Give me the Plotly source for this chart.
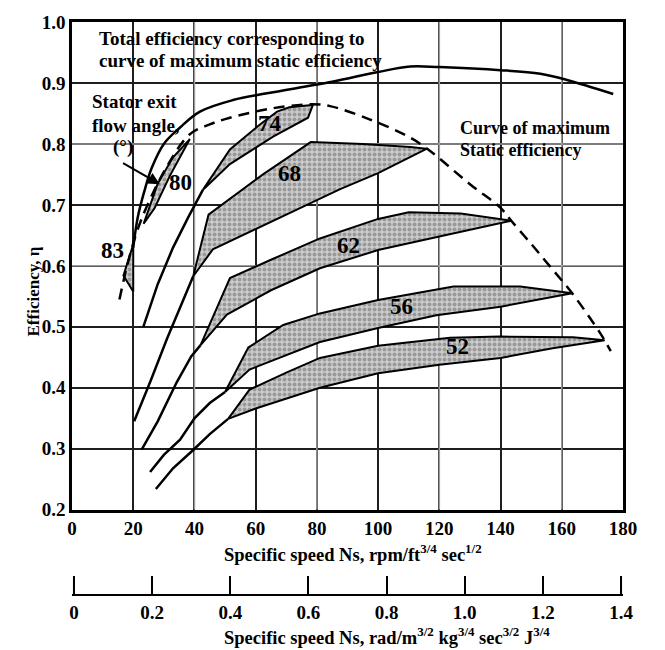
import plotly.graph_objects as go

FONT = "Liberation Serif"

# ---------------- data ----------------
X_TICKS = [0, 20, 40, 60, 80, 100, 120, 140, 160, 180]
Y_TICKS = [0.2, 0.3, 0.4, 0.5, 0.6, 0.7, 0.8, 0.9, 1.0]
X2_TICKS = [0, 0.2, 0.4, 0.6, 0.8, 1.0, 1.2, 1.4]
X2_LABELS = ["0", "0.2", "0.4", "0.6", "0.8", "1.0", "1.2", "1.4"]
GRAY_X = [40, 80, 120, 160]
GRAY_Y = [0.6, 0.8]

TOTAL_X = [20, 21.5, 23.5, 26, 30, 35.3, 41.8, 52.6, 63.7, 85, 100, 110.5, 120, 140, 153, 161.7, 176.8]
TOTAL_Y = [0.63, 0.68, 0.72, 0.76, 0.80, 0.827, 0.853, 0.872, 0.883, 0.902, 0.918, 0.927, 0.926, 0.921, 0.915, 0.905, 0.882]

MAXSTATIC_X = [15.5, 18, 21, 24.4, 30.9, 38.5, 45, 51.6, 65, 78, 84.3, 97.4, 109.5, 115.8, 130, 140, 143.5, 150, 156, 163.4, 172.5, 176]
MAXSTATIC_Y = [0.545, 0.60, 0.653, 0.697, 0.762, 0.816, 0.832, 0.843, 0.858, 0.865, 0.862, 0.84, 0.813, 0.793, 0.734, 0.695, 0.674, 0.636, 0.60, 0.555, 0.49, 0.46]

# stator exit flow angle bands: approach line, upper edge, lower edge
B52_APPROACH_X = [27.4, 33, 39.6, 45, 51]
B52_APPROACH_Y = [0.234, 0.268, 0.298, 0.324, 0.349]
B52_UPPER_X = [51, 58, 70, 81, 100, 123.5, 140, 163.7, 174]
B52_UPPER_Y = [0.349, 0.397, 0.425, 0.449, 0.469, 0.482, 0.484, 0.483, 0.478]
B52_LOWER_X = [51, 60, 81, 100, 120, 140, 157, 174]
B52_LOWER_Y = [0.349, 0.366, 0.40, 0.424, 0.438, 0.449, 0.465, 0.478]

B56_APPROACH_X = [25.5, 30, 35.3, 40, 45, 50]
B56_APPROACH_Y = [0.262, 0.29, 0.315, 0.35, 0.375, 0.393]
B56_UPPER_X = [50, 57.6, 69, 81, 100, 124.6, 146.4, 163.4]
B56_UPPER_Y = [0.393, 0.466, 0.503, 0.522, 0.544, 0.566, 0.566, 0.555]
B56_LOWER_X = [50, 58, 81, 100, 119, 140, 163.4]
B56_LOWER_Y = [0.393, 0.43, 0.475, 0.498, 0.519, 0.533, 0.555]

B62_APPROACH_X = [22.8, 28, 34.2, 39, 42]
B62_APPROACH_Y = [0.299, 0.345, 0.409, 0.452, 0.47]
B62_UPPER_X = [42, 51.6, 65, 81, 100, 110, 127, 143.5]
B62_UPPER_Y = [0.47, 0.58, 0.61, 0.645, 0.677, 0.688, 0.686, 0.674]
B62_LOWER_X = [42, 50.6, 65, 81, 100, 120, 143.5]
B62_LOWER_Y = [0.47, 0.52, 0.56, 0.596, 0.626, 0.648, 0.674]

B68_APPROACH_X = [20.3, 25.5, 31, 36, 39.6]
B68_APPROACH_Y = [0.345, 0.409, 0.48, 0.54, 0.583]
B68_UPPER_X = [39.6, 44.6, 62.4, 78, 95, 110.5, 115.8]
B68_UPPER_Y = [0.583, 0.684, 0.75, 0.803, 0.80, 0.795, 0.792]
B68_LOWER_X = [39.6, 46, 60, 87.6, 100, 115.8]
B68_LOWER_Y = [0.583, 0.627, 0.66, 0.726, 0.752, 0.792]

B74_APPROACH_X = [23.3, 28, 33, 38, 42.8]
B74_APPROACH_Y = [0.50, 0.57, 0.63, 0.68, 0.725]
B74_UPPER_X = [42.8, 51.6, 61.4, 67, 71, 78.7]
B74_UPPER_Y = [0.725, 0.791, 0.832, 0.853, 0.86, 0.864]
B74_LOWER_X = [42.8, 51.6, 65.7, 77.1, 78.7]
B74_LOWER_Y = [0.725, 0.767, 0.812, 0.843, 0.864]

B80_UPPER_X = [23.4, 28, 33, 38.5]
B80_UPPER_Y = [0.669, 0.735, 0.778, 0.808]
B80_LOWER_X = [23.4, 27, 32, 38.5]
B80_LOWER_Y = [0.669, 0.695, 0.748, 0.808]

B83_UPPER_X = [20, 16.8]
B83_UPPER_Y = [0.635, 0.584]
B83_LOWER_X = [20, 20, 16.8]
B83_LOWER_Y = [0.635, 0.558, 0.584]

BAND_LABELS = ["83", "80", "74", "68", "62", "56", "52"]
BAND_LABEL_X = [13.1, 35.3, 64.7, 71.2, 90.2, 107.8, 125.8]
BAND_LABEL_Y = [0.626, 0.737, 0.833, 0.751, 0.634, 0.534, 0.467]

BANDS = [
    (None, None, B83_UPPER_X, B83_UPPER_Y, B83_LOWER_X, B83_LOWER_Y),
    (None, None, B80_UPPER_X, B80_UPPER_Y, B80_LOWER_X, B80_LOWER_Y),
    (B74_APPROACH_X, B74_APPROACH_Y, B74_UPPER_X, B74_UPPER_Y, B74_LOWER_X, B74_LOWER_Y),
    (B68_APPROACH_X, B68_APPROACH_Y, B68_UPPER_X, B68_UPPER_Y, B68_LOWER_X, B68_LOWER_Y),
    (B62_APPROACH_X, B62_APPROACH_Y, B62_UPPER_X, B62_UPPER_Y, B62_LOWER_X, B62_LOWER_Y),
    (B56_APPROACH_X, B56_APPROACH_Y, B56_UPPER_X, B56_UPPER_Y, B56_LOWER_X, B56_LOWER_Y),
    (B52_APPROACH_X, B52_APPROACH_Y, B52_UPPER_X, B52_UPPER_Y, B52_LOWER_X, B52_LOWER_Y),
]

# text lines: (text, x, y, xanchor, size)
NOTE_LINES = [
    ("Total efficiency corresponding to", 8.2, 0.9735, "left", 19),
    ("curve of maximum static efficiency", 8.2, 0.9375, "left", 19),
    ("Curve of maximum", 126.1, 0.8260, "left", 18),
    ("Static efficiency", 126.1, 0.7900, "left", 18),
    ("Stator exit", 5.9, 0.8690, "left", 19),
    ("flow angle,", 5.9, 0.8300, "left", 19),
    ("(°)", 16.7, 0.7950, "center", 19),
]

# ---------------- figure ----------------
fig = go.Figure()
LW = 2.5

for ax_, ay_, ux, uy, lx, ly in BANDS:
    fig.add_trace(go.Scatter(
        x=ux + lx[::-1], y=uy + ly[::-1], mode="lines", fill="toself",
        fillcolor="#b0b0b0",
        fillpattern=dict(shape=".", fgcolor="#666666", bgcolor="#cccccc", size=5, solidity=0.5),
        line=dict(color="black", width=2), showlegend=False, hoverinfo="skip"))
    if ax_ is not None:
        fig.add_trace(go.Scatter(x=ax_, y=ay_, mode="lines",
                                 line=dict(color="black", width=LW),
                                 showlegend=False, hoverinfo="skip"))

fig.add_trace(go.Scatter(x=TOTAL_X, y=TOTAL_Y, mode="lines", line_shape="spline",
                         line=dict(color="black", width=LW), showlegend=False))
fig.add_trace(go.Scatter(x=MAXSTATIC_X, y=MAXSTATIC_Y, mode="lines", line_shape="spline",
                         line=dict(color="black", width=LW, dash="11px,7px"), showlegend=False))
# carrier for the secondary (SI) axis
fig.add_trace(go.Scatter(x=[None], y=[None], xaxis="x2", yaxis="y", showlegend=False))

for t, x, y in zip(BAND_LABELS, BAND_LABEL_X, BAND_LABEL_Y):
    fig.add_annotation(x=x, y=y, text="<b>%s</b>" % t, showarrow=False,
                       font=dict(family=FONT, size=23, color="black"))

for t, x, y, anc, sz in NOTE_LINES:
    fig.add_annotation(x=x, y=y, xanchor=anc, yanchor="middle", text="<b>%s</b>" % t,
                       showarrow=False, font=dict(family=FONT, size=sz, color="black"))

fig.add_annotation(x=28.7, y=0.734, ax=16.2, ay=0.77, axref="x", ayref="y",
                   text="", showarrow=True, arrowhead=2, arrowsize=1.2, arrowwidth=2,
                   arrowcolor="black")

# axis titles
fig.add_annotation(xref="paper", yref="paper", x=0.272, y=0.0727, xanchor="left", yanchor="middle",
                   text="<b>Specific speed Ns, rpm/ft<sup>3/4</sup> sec<sup>1/2</sup></b>",
                   showarrow=False, font=dict(family=FONT, size=18.5, color="black"))
fig.add_annotation(xref="paper", yref="paper", x=0.272, y=-0.0721, xanchor="left", yanchor="middle",
                   text="<b>Specific speed Ns, rad/m<sup>3/2</sup> kg<sup>3/4</sup> sec<sup>3/2</sup> J<sup>3/4</sup></b>",
                   showarrow=False, font=dict(family=FONT, size=18.5, color="black"))
fig.add_annotation(xref="paper", yref="paper", x=-0.0913, y=0.530, textangle=-90,
                   text="<b>Efficiency, η</b>", showarrow=False,
                   font=dict(family=FONT, size=17, color="black"))

for gx in GRAY_X:
    fig.add_shape(type="line", xref="x", yref="y", x0=gx, x1=gx, y0=Y_TICKS[0], y1=Y_TICKS[-1],
                  line=dict(color="#9c9c9c", width=1.5), layer="between")
for gy in GRAY_Y:
    fig.add_shape(type="line", xref="x", yref="y", x0=X_TICKS[0], x1=X_TICKS[-1], y0=gy, y1=gy,
                  line=dict(color="#9c9c9c", width=1.5), layer="between")

# end ticks of the SI axis (plotly drops inside ticks at the range ends)
for ex in (X2_TICKS[0], X2_TICKS[-1]):
    fig.add_shape(type="line", xref="x2", yref="paper", x0=ex, x1=ex, y0=0, y1=18 / 578,
                  line=dict(color="black", width=2), layer="above")

tickfont = dict(family=FONT, size=19, color="black", weight="bold")
fig.update_layout(
    width=665, height=650,
    margin=dict(l=72, r=42, t=17, b=55),
    paper_bgcolor="white", plot_bgcolor="white",
    showlegend=False,
    xaxis=dict(range=[0, 180], tickvals=X_TICKS, showgrid=True, gridcolor="#1e1e1e", gridwidth=1.5,
               showline=True, linecolor="black", linewidth=2.5, mirror=True, zeroline=False,
               ticks="", tickfont=tickfont, anchor="y", domain=[0, 1]),
    yaxis=dict(range=[0.2, 1.0], tickvals=Y_TICKS, tickformat=".1f", showgrid=True,
               gridcolor="#1e1e1e", gridwidth=1.5, showline=True, linecolor="black",
               linewidth=2.5, mirror=True, zeroline=False, ticks="", tickfont=tickfont,
               domain=[0.1488, 1]),
    xaxis2=dict(range=[-0.005, 1.405], tickvals=X2_TICKS, ticktext=X2_LABELS, overlaying="x",
                anchor="free", position=0, side="bottom", showgrid=False, zeroline=False,
                showline=True, linecolor="black", linewidth=2, ticks="inside", ticklen=18,
                tickwidth=2, tickcolor="black", tickfont=tickfont),
)

fig.write_html("out.html")
